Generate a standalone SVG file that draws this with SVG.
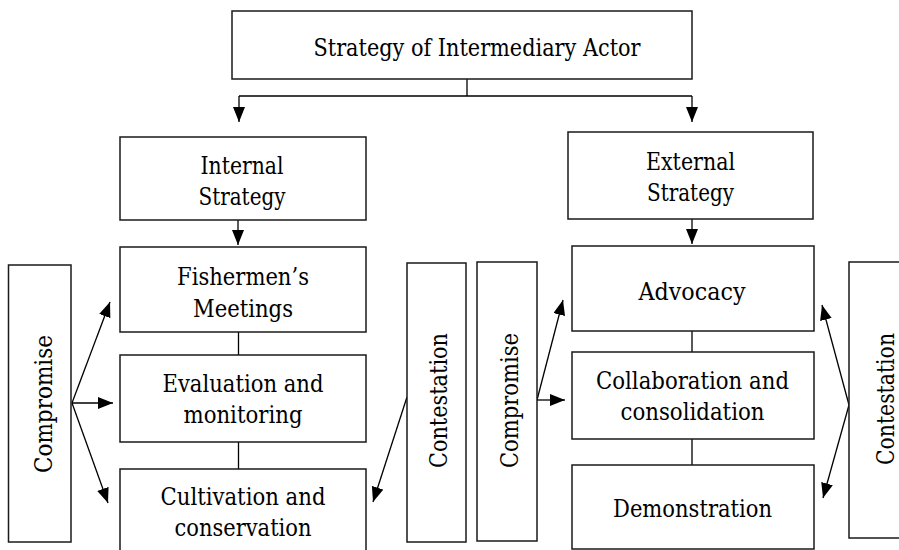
<svg xmlns="http://www.w3.org/2000/svg" width="899" height="550" viewBox="0 0 899 550">
  <style>
    .box { fill: #ffffff; stroke: #1a1a1a; stroke-width: 1.5; }
    .t { font-family: 'DejaVu Serif', serif; font-size: 25px; fill: #000; text-anchor: middle; }
    .ln { fill: none; stroke: #000; stroke-width: 1.3; }
  </style>
  <defs>
    <marker id="ah" markerUnits="userSpaceOnUse" markerWidth="16" markerHeight="13" refX="15" refY="6" orient="auto">
      <path d="M0,0 L15,6 L0,12 z" fill="#000"/>
    </marker>
  </defs>
  <rect width="899" height="550" fill="#ffffff"/>

  <g id="connectors">
    <path class="ln" d="M467,79 V96 M239,96 H692"/>
    <path class="ln" d="M239,96 V122" marker-end="url(#ah)"/>
    <path class="ln" d="M692,96 V122" marker-end="url(#ah)"/>
    <path class="ln" d="M238,220 V245" marker-end="url(#ah)"/>
    <path class="ln" d="M692,219 V244" marker-end="url(#ah)"/>
    <path class="ln" d="M238.5,332 V355 M238.5,442 V469 M692,331 V352 M692,439 V465"/>
    <path class="ln" d="M72,403 L110,302" marker-end="url(#ah)"/>
    <path class="ln" d="M72,403 L113,403" marker-end="url(#ah)"/>
    <path class="ln" d="M72,403 L108,503" marker-end="url(#ah)"/>
    <path class="ln" d="M407,397 L373,502" marker-end="url(#ah)"/>
    <path class="ln" d="M537,400 L563,300" marker-end="url(#ah)"/>
    <path class="ln" d="M537,400 L565,400" marker-end="url(#ah)"/>
    <path class="ln" d="M849,405 L822,305" marker-end="url(#ah)"/>
    <path class="ln" d="M849,405 L823,498" marker-end="url(#ah)"/>
  </g>

  <g id="top">
    <rect class="box" x="232" y="11" width="460" height="68"/>
    <text class="t" x="477" y="56" textLength="327" lengthAdjust="spacingAndGlyphs">Strategy of Intermediary Actor</text>
  </g>
  <g id="internal">
    <rect class="box" x="120" y="137" width="246" height="83"/>
    <text class="t" x="242" y="174" textLength="83" lengthAdjust="spacingAndGlyphs">Internal</text>
    <text class="t" x="242" y="205" textLength="87" lengthAdjust="spacingAndGlyphs">Strategy</text>
  </g>
  <g id="external">
    <rect class="box" x="568" y="132" width="245" height="87"/>
    <text class="t" x="690.5" y="170" textLength="89" lengthAdjust="spacingAndGlyphs">External</text>
    <text class="t" x="690.5" y="201" textLength="87" lengthAdjust="spacingAndGlyphs">Strategy</text>
  </g>
  <g id="fishermen">
    <rect class="box" x="120" y="247" width="246" height="85"/>
    <text class="t" x="243" y="285" textLength="132" lengthAdjust="spacingAndGlyphs">Fishermen’s</text>
    <text class="t" x="243" y="316.5" textLength="100" lengthAdjust="spacingAndGlyphs">Meetings</text>
  </g>
  <g id="evaluation">
    <rect class="box" x="120" y="355" width="246" height="87"/>
    <text class="t" x="243" y="391.5" textLength="161" lengthAdjust="spacingAndGlyphs">Evaluation and</text>
    <text class="t" x="243" y="423" textLength="119" lengthAdjust="spacingAndGlyphs">monitoring</text>
  </g>
  <g id="cultivation">
    <rect class="box" x="120" y="469" width="246" height="100"/>
    <text class="t" x="243" y="505" textLength="165" lengthAdjust="spacingAndGlyphs">Cultivation and</text>
    <text class="t" x="243" y="536" textLength="137" lengthAdjust="spacingAndGlyphs">conservation</text>
  </g>
  <g id="advocacy">
    <rect class="box" x="572" y="246" width="242" height="85"/>
    <text class="t" x="692" y="300" textLength="107" lengthAdjust="spacingAndGlyphs">Advocacy</text>
  </g>
  <g id="collaboration">
    <rect class="box" x="572" y="352" width="242" height="87"/>
    <text class="t" x="692.5" y="389" textLength="193" lengthAdjust="spacingAndGlyphs">Collaboration and</text>
    <text class="t" x="692.5" y="420" textLength="144" lengthAdjust="spacingAndGlyphs">consolidation</text>
  </g>
  <g id="demonstration">
    <rect class="box" x="572" y="465" width="242" height="84"/>
    <text class="t" x="692.5" y="516.5" textLength="159" lengthAdjust="spacingAndGlyphs">Demonstration</text>
  </g>
  <g id="compromise-left">
    <rect class="box" x="8.5" y="265" width="62.5" height="277"/>
    <text class="t" transform="translate(52,404) rotate(-90)" textLength="138" lengthAdjust="spacingAndGlyphs">Compromise</text>
  </g>
  <g id="contestation-mid">
    <rect class="box" x="407" y="263" width="59" height="279"/>
    <text class="t" transform="translate(447,400.5) rotate(-90)" textLength="135" lengthAdjust="spacingAndGlyphs">Contestation</text>
  </g>
  <g id="compromise-mid">
    <rect class="box" x="477" y="262" width="60" height="279"/>
    <text class="t" transform="translate(518,400.5) rotate(-90)" textLength="135" lengthAdjust="spacingAndGlyphs">Compromise</text>
  </g>
  <g id="contestation-right">
    <rect class="box" x="849" y="262" width="70" height="276"/>
    <text class="t" transform="translate(894,399) rotate(-90)" textLength="132" lengthAdjust="spacingAndGlyphs">Contestation</text>
  </g>
</svg>
